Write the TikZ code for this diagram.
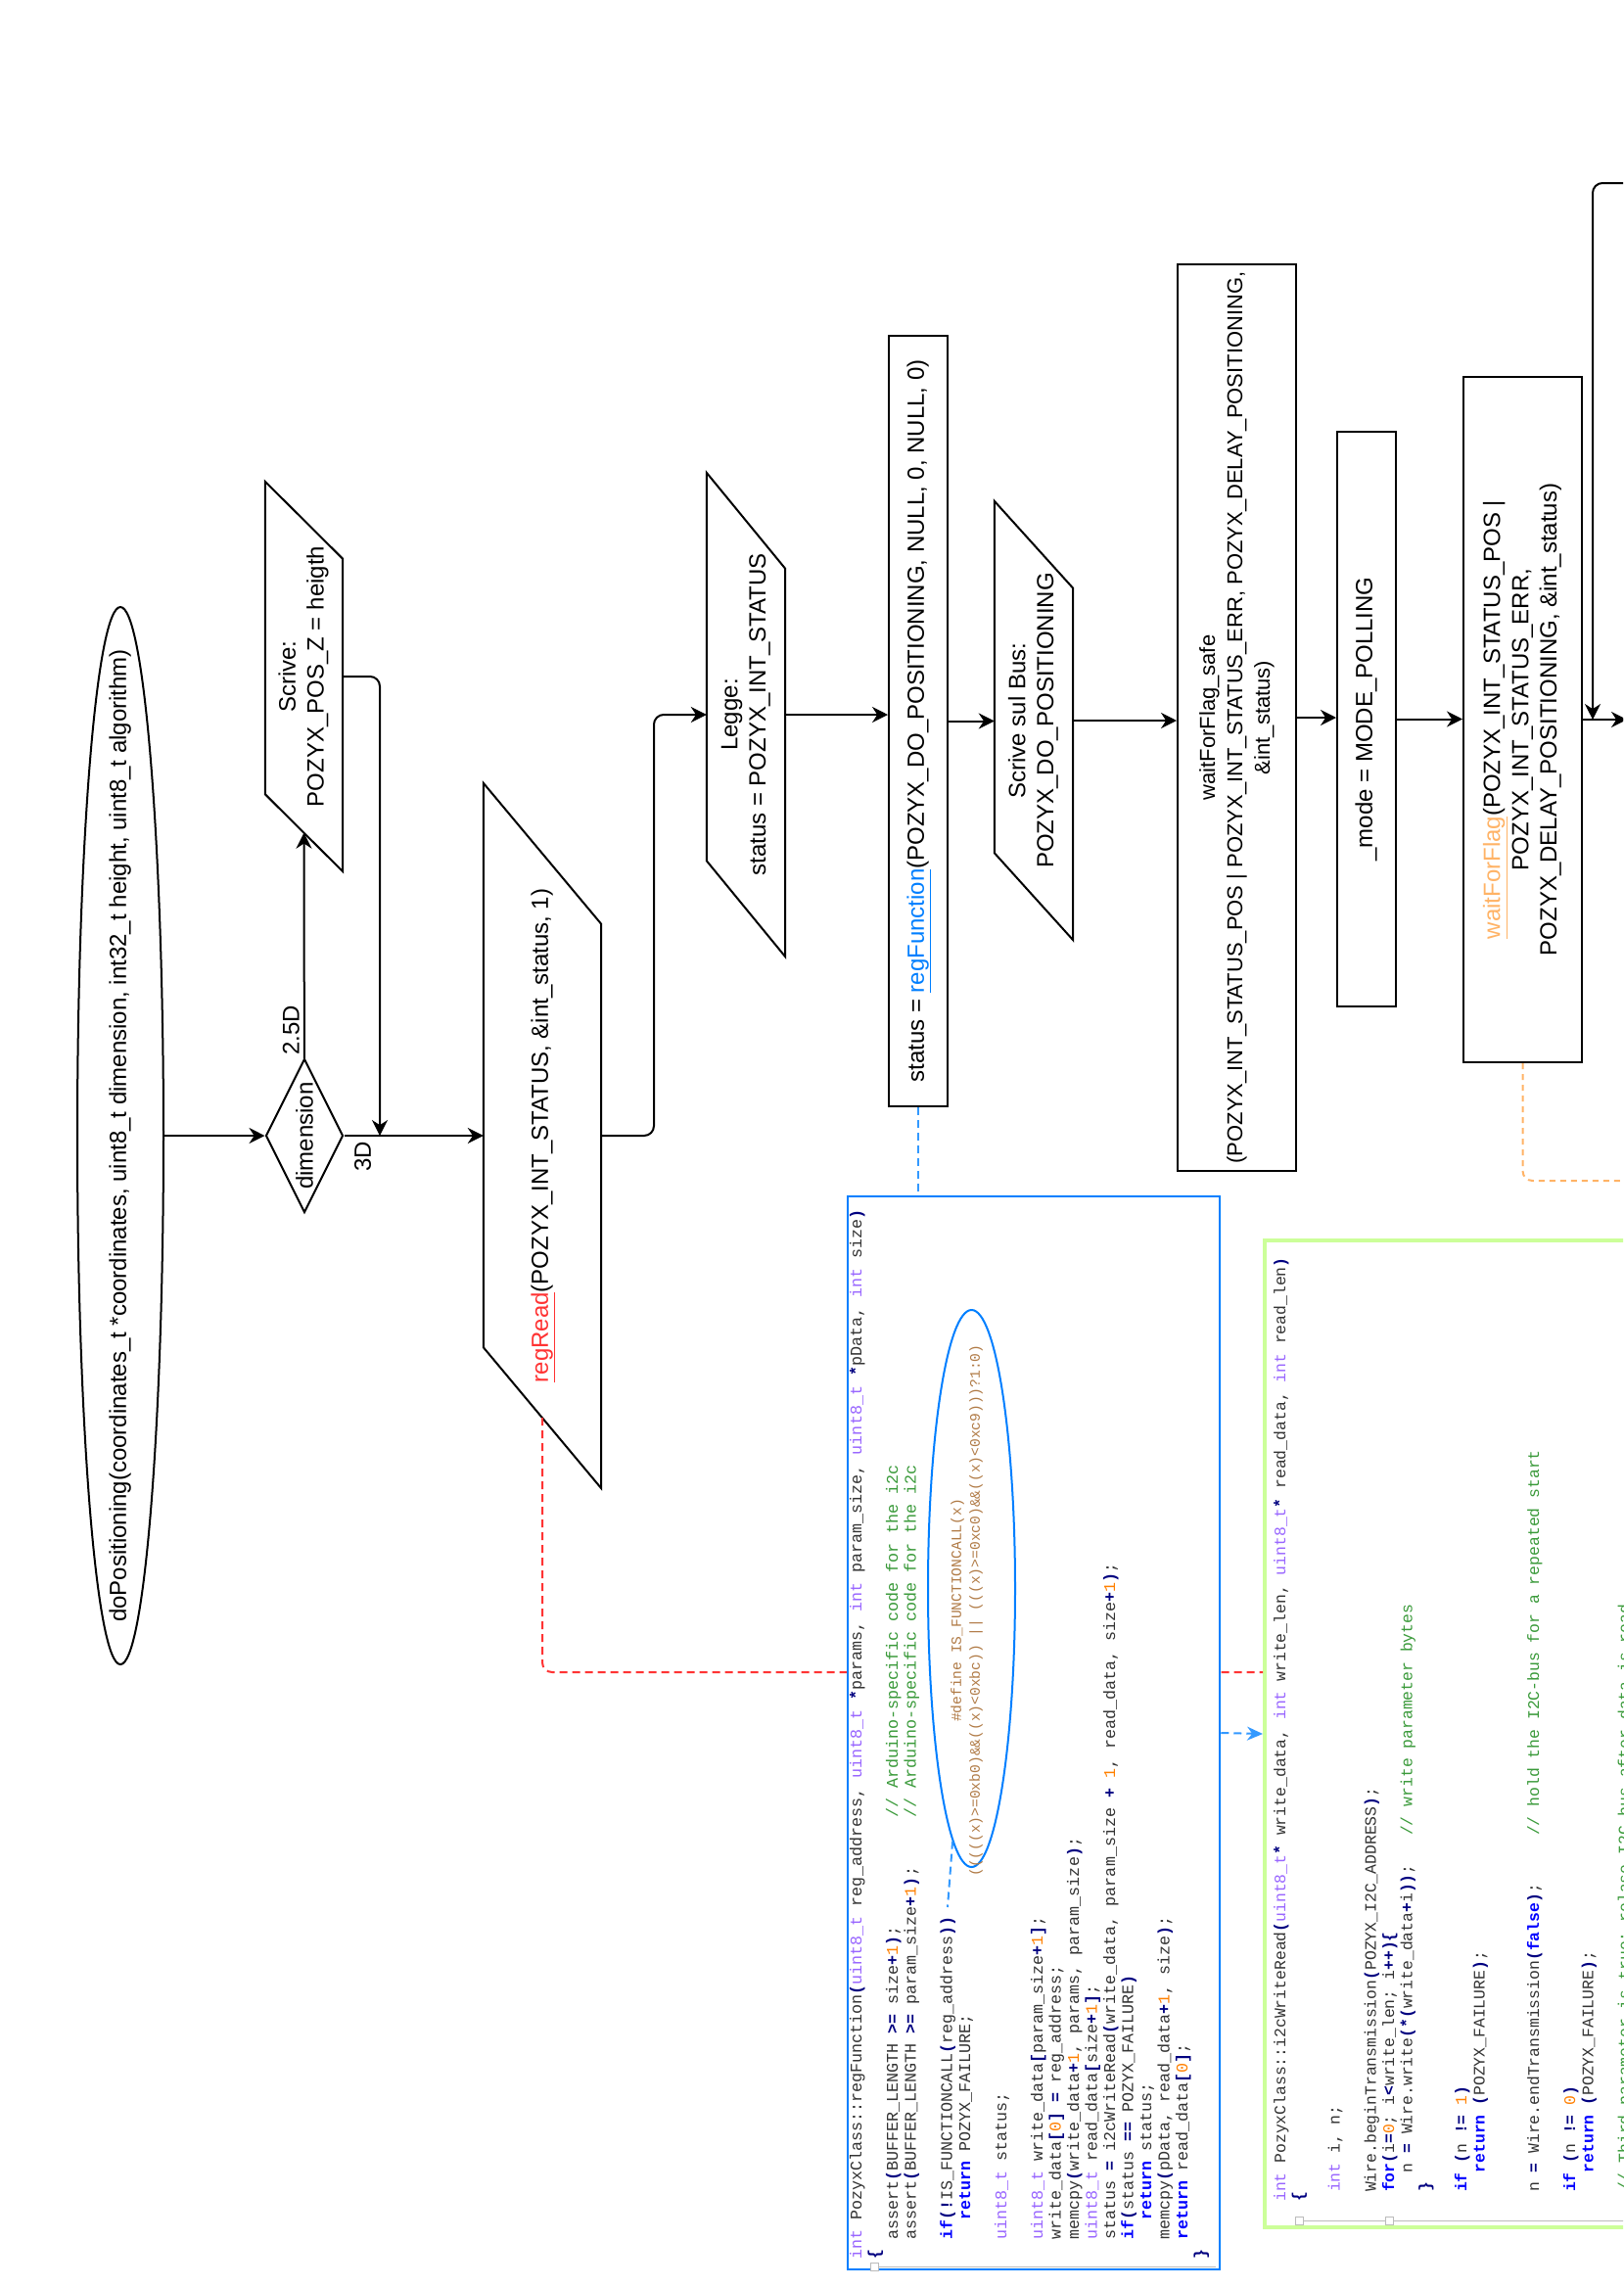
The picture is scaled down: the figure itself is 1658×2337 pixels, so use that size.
\documentclass[tikz,border=0pt]{standalone}
\usepackage{fontspec}
\setmainfont{Liberation Sans}
\setmonofont{Liberation Mono}
\usepackage{graphicx}
\usetikzlibrary{shapes.geometric,arrows.meta,calc}

\definecolor{regred}{HTML}{FF3333}
\definecolor{regblue}{HTML}{007FFF}
\definecolor{linkblue}{HTML}{3399FF}
\definecolor{flagorange}{HTML}{FFB366}
\definecolor{codegreen}{HTML}{CCFF99}
\definecolor{codetype}{HTML}{9966FF}
\definecolor{codekey}{HTML}{0000FF}
\definecolor{codeop}{HTML}{000080}
\definecolor{codenum}{HTML}{FF8000}
\definecolor{codecom}{HTML}{3A9A3A}
\definecolor{codepre}{HTML}{B07A45}
\definecolor{codetext}{HTML}{333333}
\definecolor{foldgray}{HTML}{BBBBBB}

\newcommand\vtext[1]{\rotatebox{90}{\begin{tabular}{@{}c@{}}#1\end{tabular}}}
\newcommand\vflat[1]{\smash{\raisebox{-.5\height}{\vtext{#1}}}}
\newcommand\vcode[1]{\rotatebox{90}{\begin{tabular}{@{}l@{}}#1\end{tabular}}}
\newcommand\cty[1]{\textcolor{codetype}{#1}}
\newcommand\ckw[1]{\textcolor{codekey}{\bfseries #1}}
\newcommand\cop[1]{\textcolor{codeop}{\bfseries #1}}
\newcommand\cnum[1]{\textcolor{codenum}{#1}}
\newcommand\ccom[1]{\textcolor{codecom}{#1}}
\newcommand\slantbox[2]{\draw[line width=2pt] (#1.north west) -- ($(#1.north east)+(0,#2)$) -- (#1.south east) -- ($(#1.south west)+(0,-#2)$) -- cycle;}

\begin{document}
\begin{tikzpicture}[x=1pt,y=1pt,yscale=-1,xscale=1,
    flow/.style={inner sep=0pt,font=\fontsize{24}{28.8}\selectfont},
    box/.style={flow,draw,line width=2pt},
    arrow/.style={line width=2pt,-{Stealth[length=16pt,width=16pt]}},
    code/.style={inner sep=0pt,text=codetext,font=\ttfamily\fontsize{16.7}{18.5}\selectfont},
    readdash/.style={regred,line width=2pt,dash pattern=on 8pt off 5pt},
    linkdash/.style={linkblue,line width=2pt,dash pattern=on 8pt off 5pt},
    flagdash/.style={flagorange,line width=2pt,dash pattern=on 6pt off 5pt}]
    \useasboundingbox (0,0) rectangle (1658,2337);
    \fill[white] (0,0) rectangle (1658,2337);
    \clip (0,0) rectangle (1658,2337);

    %Shape: Ellipse [start]
    \node[flow,ellipse,draw,line width=2pt,minimum width=88pt,minimum height=1080pt] (start) at (123,1160) {\vflat{doPositioning(coordinates\_t *coordinates, uint8\_t dimension, int32\_t height, uint8\_t algorithm)}};
    %Shape: Diamond [dimension]
    \node[box,diamond,aspect=0.5,minimum width=79pt,minimum height=157pt] (dim) at (311,1160) {\rotatebox{90}{dimension}};

    %Shape: Parallelogram [scrive z]
    \node[flow,minimum width=79pt,minimum height=398pt] (scrivez) at (310.5,691) {\vtext{Scrive:\\POZYX\_POS\_Z = heigth}};
    \slantbox{scrivez}{79}
    %Shape: Parallelogram [regRead]
    \node[flow,minimum width=120pt,minimum height=720pt] (regread) at (554,1160) {\vtext{\textcolor{regred}{\underline{regRead}}(POZYX\_INT\_STATUS, \&int\_status, 1)}};
    \slantbox{regread}{144}
    %Shape: Parallelogram [legge]
    \node[flow,minimum width=80pt,minimum height=494pt] (legge) at (762,730) {\vtext{Legge:\\status = POZYX\_INT\_STATUS}};
    \slantbox{legge}{98}
    %Shape: Rectangle [regFunction]
    \node[box,minimum width=60pt,minimum height=787pt] (regfun) at (938,736.5) {\vtext{status = \textcolor{regblue}{\underline{regFunction}}(POZYX\_DO\_POSITIONING, NULL, 0, NULL, 0)}};
    %Shape: Parallelogram [scrive bus]
    \node[flow,minimum width=80pt,minimum height=448pt] (scrivebus) at (1056,736) {\vtext{Scrive sul Bus:\\POZYX\_DO\_POSITIONING}};
    \slantbox{scrivebus}{89}
    %Shape: Rectangle [waitForFlag_safe]
    \node[box,font=\fontsize{22}{28}\selectfont,minimum width=121pt,minimum height=926pt] (wffsafe) at (1263.5,733) {\vtext{waitForFlag\_safe\\(POZYX\_INT\_STATUS\_POS | POZYX\_INT\_STATUS\_ERR, POZYX\_DELAY\_POSITIONING,\\\&int\_status)}};
    %Shape: Rectangle [mode]
    \node[box,minimum width=60pt,minimum height=587pt] (mode) at (1396,734.5) {\vtext{\_mode = MODE\_POLLING}};
    %Shape: Rectangle [waitForFlag]
    \node[box,minimum width=121pt,minimum height=700pt] (wff) at (1555.5,735) {\vtext{\textcolor{flagorange}{\underline{waitForFlag}}(POZYX\_INT\_STATUS\_POS |\\POZYX\_INT\_STATUS\_ERR,\\POZYX\_DELAY\_POSITIONING, \&int\_status)}};

    % Text Node
    \node[flow,anchor=south east] (lab25) at ($(dim.north)+(-5,-2.5)$) {\rotatebox{90}{2.5D}};
    % Text Node
    \node[flow,anchor=north west] (lab3) at ($(dim.east)+(10.5,6)$) {\rotatebox{90}{3D}};

    %Connectors
    \coordinate (zbase) at ($(scrivez.south)+(0,-39.5)$);
    \coordinate (zjoin) at (388,1160);
    \draw[arrow] (start) -- (dim);
    \draw[arrow] (dim) -- (zbase);
    \draw[arrow] (dim) -- (regread);
    \draw[arrow,rounded corners=10pt] (scrivez.east) -| (zjoin);
    \draw[arrow,rounded corners=10pt] (regread.east) -| ($(regread.east)!0.5!(legge.west)$) |- (legge.west);
    \draw[arrow] (legge.east) -- (legge.east -| regfun.west);
    \draw[arrow] (regfun.east) -- (regfun.east -| scrivebus.west);
    \draw[arrow] (scrivebus.east) -- (scrivebus.east -| wffsafe.west);
    \draw[arrow] (wffsafe.east) -- (wffsafe.east -| mode.west);
    \draw[arrow] (mode.east) -- (mode.east -| wff.west);
    \coordinate (wffout) at (1662,735);
    \draw[arrow] (wff.east) -- (wffout);
    \coordinate (wffback) at (1680,187);
    \coordinate (wffjoin) at (1627,735);
    \draw[arrow,rounded corners=10pt] (wffback) -| (wffjoin);
    \coordinate (wffcode) at (1680,1206);
    \draw[flagdash,rounded corners=10pt] (wff.south) |- (wffcode);

    %Shape: Rectangle [i2cWriteRead code]
    \node[draw=codegreen,fill=white,line width=4pt,minimum width=508pt,minimum height=1008pt] (i2ccode) at (1546,1771) {};
    \coordinate (rrbase) at ($(regread.south)+(0,-72)$);
    \coordinate (i2cin) at ($(i2ccode.west)+(0,-63)$);
    \draw[readdash,rounded corners=10pt] (rrbase) |- (i2cin);
    %Shape: Rectangle [regFunction code]
    \node[draw=regblue,fill=white,line width=2.5pt,minimum width=380pt,minimum height=1096pt] (regfuncode) at (1056,1770) {};

    %fold margins
    \draw[foldgray,line width=1pt] (897,2315) -- (1242,2315);
    \draw[foldgray,fill=white,line width=1pt] (889,2311) rectangle (897,2319);
    \draw[foldgray,line width=1pt] (1331,2268) -- (1660,2268);
    \draw[foldgray,fill=white,line width=1pt] (1323,2264) rectangle (1331,2272);
    \draw[foldgray,fill=white,line width=1pt] (1415,2264) rectangle (1423,2272);

    % Text Node [regFunction code]
    \node[code,anchor=south west] (regfuntxt) at (867,2308) {\vcode{%
\cty{int} PozyxClass::regFunction\cop{(}\cty{uint8\_t} reg\_address, \cty{uint8\_t} \cop{*}params, \cty{int} param\_size, \cty{uint8\_t} \cop{*}pData, \cty{int} size\cop{)}\\
\cop{\{}\\
~~assert\cop{(}BUFFER\_LENGTH \cop{>=} size\cop{+}\cnum{1}\cop{)};~~~~~~~~~~~\ccom{// Arduino-specific code for the i2c}\\
~~assert\cop{(}BUFFER\_LENGTH \cop{>=} param\_size\cop{+}\cnum{1}\cop{)};~~~~~\ccom{// Arduino-specific code for the i2c}\\
\\
~~\ckw{if}\cop{(!}IS\_FUNCTIONCALL\cop{(}reg\_address\cop{))}\\
~~~~\ckw{return} POZYX\_FAILURE;\\
\\
~~\cty{uint8\_t} status;\\
\\
~~\cty{uint8\_t} write\_data\cop{[}param\_size\cop{+}\cnum{1}\cop{]};\\
~~write\_data\cop{[}\cnum{0}\cop{]} \cop{=} reg\_address;\\
~~memcpy\cop{(}write\_data\cop{+}\cnum{1}, params, param\_size\cop{)};\\
~~\cty{uint8\_t} read\_data\cop{[}size\cop{+}\cnum{1}\cop{]};\\
~~status \cop{=} i2cWriteRead\cop{(}write\_data, param\_size \cop{+} \cnum{1}, read\_data, size\cop{+}\cnum{1}\cop{)};\\
~~\ckw{if}\cop{(}status \cop{==} POZYX\_FAILURE\cop{)}\\
~~~~\ckw{return} status;\\
~~memcpy\cop{(}pData, read\_data\cop{+}\cnum{1}, size\cop{)};\\
~~\ckw{return} read\_data\cop{[}\cnum{0}\cop{]};\\
\cop{\}}}};

    %Shape: Ellipse [IS_FUNCTIONCALL]
    \node[draw=regblue,ellipse,line width=2pt,minimum width=89pt,minimum height=569pt,inner sep=0pt] (defell) at (992.5,1622.5) {};
    % Text Node
    \node[inner sep=0pt,text=codepre,font=\ttfamily\fontsize{14.6}{19}\selectfont] (deftxt) at (987.5,1645) {\vtext{\#define IS\_FUNCTIONCALL(x)\\(((((x)>=0xb0)\&\&((x)<0xbc)) || (((x)>=0xc0)\&\&((x)<0xc9)))?1:0)}};
    \coordinate (defend) at (968,1948);
    \draw[linkdash] (defell) -- (defend);

    % Text Node [i2cWriteRead code]
    \node[code,font=\ttfamily\fontsize{16.4}{18.5}\selectfont,anchor=south west] (i2ctxt) at (1300,2249) {\vcode{%
\cty{int} PozyxClass::i2cWriteRead\cop{(}\cty{uint8\_t}\cop{*} write\_data, \cty{int} write\_len, \cty{uint8\_t}\cop{*} read\_data, \cty{int} read\_len\cop{)}\\
\cop{\{}\\
\\
~\cty{int} i, n;\\
\\
~Wire.beginTransmission\cop{(}POZYX\_I2C\_ADDRESS\cop{)};\\
~\ckw{for}\cop{(}i\cop{=}\cnum{0}; i\cop{<}write\_len; i\cop{++)\{}\\
~~~n \cop{=} Wire.write\cop{(*(}write\_data\cop{+}i\cop{))};~~~\ccom{// write parameter bytes}\\
~\cop{\}}\\
\\
~\ckw{if} \cop{(}n \cop{!=} \cnum{1}\cop{)}\\
~~~\ckw{return} \cop{(}POZYX\_FAILURE\cop{)};\\
\\
\\
~n \cop{=} Wire.endTransmission\cop{(}\ckw{false}\cop{)};~~~~~\ccom{// hold the I2C-bus for a repeated start}\\
\\
~\ckw{if} \cop{(}n \cop{!=} \cnum{0}\cop{)}\\
~~~\ckw{return} \cop{(}POZYX\_FAILURE\cop{)};\\
\\
~\ccom{// Third parameter is true: relase I2C bus after data is read}}};

    %Blue links
    \draw[linkdash] (regfun.south) -- (regfun.south |- regfuncode.north);
    \draw[linkdash,-{Stealth[length=16pt,width=14pt]}] (regfuncode.east) -- (i2ccode.west);

\end{tikzpicture}
\end{document}
